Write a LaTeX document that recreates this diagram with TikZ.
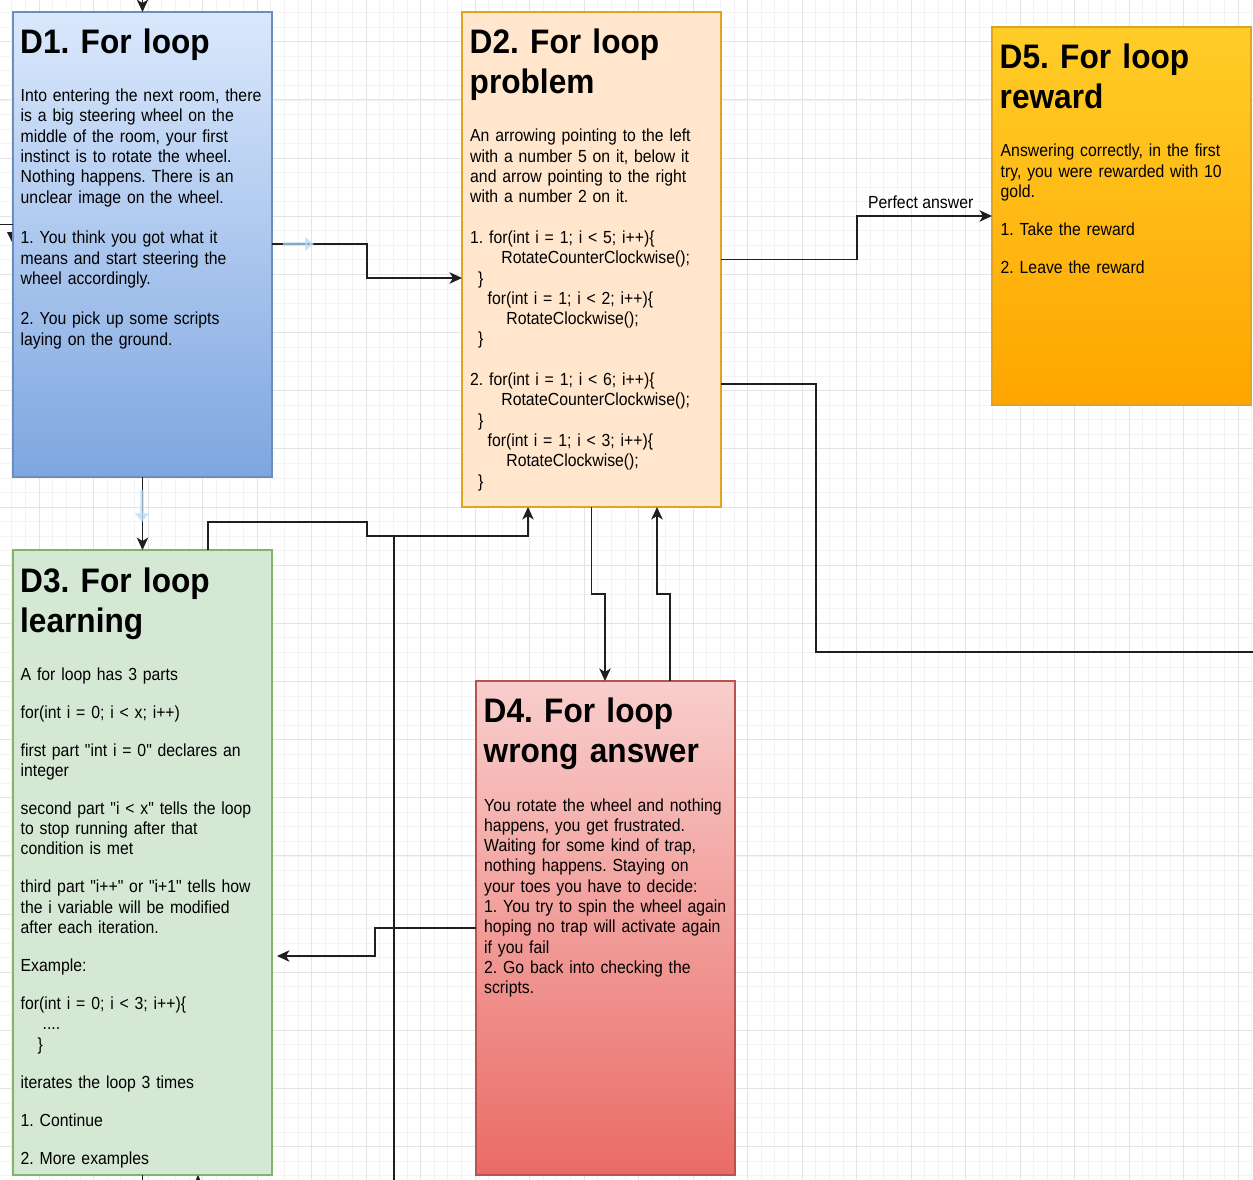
\documentclass[tikz,border=0pt]{standalone}
\usepackage{fontspec}
\newfontfamily\df[FakeStretch=0.93]{Liberation Sans}
\newfontfamily\db[FakeStretch=0.902]{Liberation Sans}
\usetikzlibrary{arrows.meta}
\definecolor{gmin}{HTML}{F3F3F3}
\definecolor{gmaj}{HTML}{E4E4E4}
\definecolor{blueT}{HTML}{DAE8FC}
\definecolor{blueB}{HTML}{7EA6E0}
\definecolor{blueS}{HTML}{6C8EBF}
\definecolor{peach}{HTML}{FFE6CC}
\definecolor{orS}{HTML}{E0A420}
\definecolor{greenF}{HTML}{D5E8D4}
\definecolor{greenS}{HTML}{82B366}
\definecolor{redT}{HTML}{F8CECC}
\definecolor{redB}{HTML}{EA6B66}
\definecolor{redS}{HTML}{B85450}
\definecolor{yelT}{HTML}{FFCD28}
\definecolor{yelB}{HTML}{FFA500}
\definecolor{ghost}{HTML}{BFE0F7}
\begin{document}
\frenchspacing
\begin{tikzpicture}[x=1pt,y=-1pt,
  gminor/.style={draw=gmin,line width=0.8pt},
  gmajor/.style={draw=gmaj,line width=1pt},
  box/.style={draw,line width=1.2pt,minimum width=259pt,anchor=north west,inner sep=0pt,outer sep=0pt},
  ttl/.style={anchor=base west,inner sep=0pt,text width=320pt,align=left,font=\df\bfseries\fontsize{34}{40}\selectfont\frenchspacing},
  txt/.style={anchor=base west,inner sep=0pt,text width=320pt,align=left,font=\db\fontsize{17.5}{20.3}\selectfont\frenchspacing},
  conn/.style={line width=1.3pt,draw=black!88},
  arr/.style={conn,-{Stealth[length=12.5pt,width=11.5pt,inset=3.5pt]}},
  ghostarr/.style={draw=ghost,line width=4pt,-{Triangle[length=9pt,width=14pt]}}]
\clip (0,0) rectangle (1253,1180);
\fill[white] (0,0) rectangle (1253,1180);
% grid
\foreach \i in {0,...,96} \draw[gminor] ({-15.4+13.625*\i},0) -- ++(0,1180);
\foreach \j in {0,...,84} \draw[gminor] (0,{-16.35+14.5375*\j}) -- ++(1253,0);
\foreach \i in {0,...,24} \draw[gmajor] ({-15.4+54.5*\i},0) -- ++(0,1180);
\foreach \j in {0,...,21} \draw[gmajor] (0,{-16.35+58.15*\j}) -- ++(1253,0);

% fragment behind D1
\fill[black!88] (7,232) -- (17,232) -- (12,242) -- cycle;

% boxes
\node[box,draw=blueS,top color=blueT,bottom color=blueB,minimum height=465pt] (D1) at (13,12) {};
\node[box,draw=orS,fill=peach,minimum height=495pt] (D2) at (462,12) {};
\node[box,draw=greenS,fill=greenF,minimum height=625pt] (D3) at (13,550) {};
\node[box,draw=redS,top color=redT,bottom color=redB,minimum height=494pt] (D4) at (476,681) {};
\node[box,draw=orS,top color=yelT,bottom color=yelB,minimum height=378pt] (D5) at (992,27) {};

% D1 texts
\node[ttl] (D1t) at (20,53.3) {D1. For loop};
\node[txt] (D1b) at (20.5,101.7) {Into entering the next room, there\\ is a big steering wheel on the\\ middle of the room, your first\\ instinct is to rotate the wheel.\\ Nothing happens. There is an\\ unclear image on the wheel.\\[20.3pt] 1. You think you got what it\\ means and start steering the\\ wheel accordingly.\\[20.3pt] 2. You pick up some scripts\\ laying on the ground.};

% D2 texts
\node[ttl] (D2t) at (469.5,53.3) {D2. For loop\\ problem};
\node[txt] (D2b) at (470,142) {An arrowing pointing to the left\\ with a number 5 on it, below it\\ and arrow pointing to the right\\ with a number 2 on it.\\[20.3pt]
1. for(int i = 1; i < 5; i++)\{\\ \hspace*{31.2pt}RotateCounterClockwise();\\ \hspace*{8pt}\}\\ \hspace*{17.5pt}for(int i = 1; i < 2; i++)\{\\ \hspace*{36.2pt}RotateClockwise();\\ \hspace*{8pt}\}\\[20.3pt]
2. for(int i = 1; i < 6; i++)\{\\ \hspace*{31.2pt}RotateCounterClockwise();\\ \hspace*{8pt}\}\\ \hspace*{17.5pt}for(int i = 1; i < 3; i++)\{\\ \hspace*{36.2pt}RotateClockwise();\\ \hspace*{8pt}\}};

% D3 texts
\node[ttl] (D3t) at (20,592) {D3. For loop\\ learning};
\node[txt] (D3b) at (20.5,680) {A for loop has 3 parts\\[17.7pt]
for(int i = 0; i < x; i++)\\[17.7pt]
first part "int i = 0" declares an\\ integer\\[17.7pt]
second part "i < x" tells the loop\\ to stop running after that\\ condition is met\\[17.7pt]
third part "i++" or "i+1" tells how\\ the i variable will be modified\\ after each iteration.\\[17.7pt]
Example:\\[17.7pt]
for(int i = 0; i < 3; i++)\{\\ \hspace*{22pt}....\\ \hspace*{17pt}\}\\[17.7pt]
iterates the loop 3 times\\[17.7pt]
1. Continue\\[17.7pt]
2. More examples};

% D4 texts
\node[ttl] (D4t) at (483.5,722) {D4. For loop\\ wrong answer};
\node[txt] (D4b) at (484,811) {You rotate the wheel and nothing\\ happens, you get frustrated.\\ Waiting for some kind of trap,\\ nothing happens. Staying on\\ your toes you have to decide:\\ 1. You try to spin the wheel again\\ hoping no trap will activate again\\ if you fail\\ 2. Go back into checking the\\ scripts.};

% D5 texts
\node[ttl] (D5t) at (999.5,68.3) {D5. For loop\\ reward};
\node[txt] (D5b) at (1000.5,156.7) {Answering correctly, in the first\\ try, you were rewarded with 10\\ gold.\\[17.7pt] 1. Take the reward\\[17.7pt] 2. Leave the reward};

% free ends
\coordinate (Ctop) at (142.5,-5);
\coordinate (Cleft) at (0,224.3);
\coordinate (Cbot) at (394,1190);
\coordinate (Cright) at (1260,652);
\coordinate (Cb1) at (142.5,1190);
\coordinate (Cb2) at (198,1192);

% connectors
\draw[arr] (Ctop) -- (D1.north);
\draw[conn] (Cleft) -- (Cleft -| D1.west);
\draw[arr] (D1.east |- 0,244) -- (367,244) -- (367,278) -- (D2.west |- 0,278);
\draw[arr] (D1.south) -- (D3.north);
\draw[arr] (D3.north -| 208,0) -- (208,522) -- (367,522) -- (367,536) -- (528,536) -- (D2.south -| 528,0);
\draw[conn] (Cbot) -- (394,536);
\draw[arr] (D2.south -| 591.5,0) -- (591.5,594) -- (605,594) -- (D4.north -| 605,0);
\draw[arr] (D4.north -| 670,0) -- (670,594) -- (657,594) -- (D2.south -| 657,0);
\draw[arr] (D2.east |- 0,259.3) -- (857,259.3) -- (857,216) -- (D5.west |- 0,216);
\node[anchor=base east,inner sep=0pt,font=\db\fontsize{17.5}{20.3}\selectfont] (Lpa) at (973.5,208) {Perfect answer};
\draw[conn] (D2.east |- 0,384) -- (816,384) -- (816,652) -- (Cright);
\draw[arr] (D4.west |- 0,928) -- (375,928) -- (375,956) -- ([xshift=5pt]D3.east |- 0,956);
\draw[conn] (D3.south -| Cb1) -- (Cb1);
\draw[arr] (Cb2) -- (D3.south -| Cb2);

% faint hover arrows
\draw[ghostarr,opacity=0.7] (283,244) -- (314,244);
\draw[ghostarr,opacity=0.7] (142,490) -- (142,522);
\end{tikzpicture}
\end{document}
